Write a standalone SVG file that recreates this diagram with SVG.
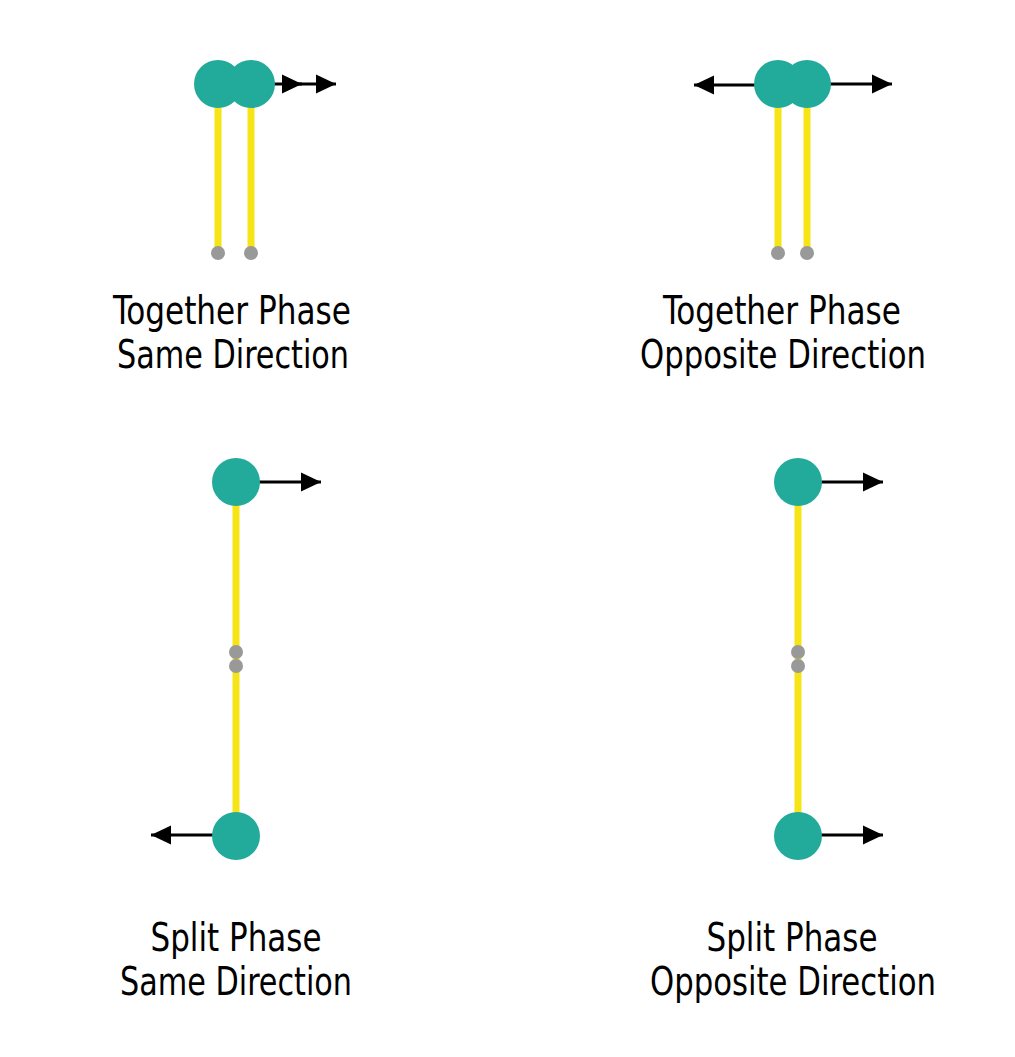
<svg xmlns="http://www.w3.org/2000/svg" width="1015" height="1057" viewBox="0 0 1015 1057">
<style>
.rod{stroke:#f7e417;stroke-width:7;fill:none}
.ball{fill:#22aa9a}
.pin{fill:#999999}
.arr{stroke:#000;stroke-width:3;fill:none;marker-end:url(#ah)}
.lbl{font-family:"DejaVu Sans Condensed","DejaVu Sans",sans-serif;font-stretch:condensed;font-size:39px;fill:#000;text-anchor:middle}
</style>
<defs>
<marker id="ah" markerWidth="20" markerHeight="20" refX="20" refY="10" orient="auto" markerUnits="userSpaceOnUse">
<path d="M0,0.5 L20,10 L0,19.5 Z" fill="#000"/>
</marker>
</defs>
<g id="connectors">
<line class="arr" x1="251" y1="84" x2="302" y2="84"/>
<line class="arr" x1="290" y1="84" x2="336" y2="84"/>
<line class="arr" x1="778" y1="85" x2="694" y2="85"/>
<line class="arr" x1="807" y1="84" x2="892" y2="84"/>
<line class="arr" x1="236" y1="482" x2="321" y2="482"/>
<line class="arr" x1="236" y1="835" x2="151" y2="835"/>
<line class="arr" x1="798" y1="482" x2="883" y2="482"/>
<line class="arr" x1="798" y1="835" x2="883" y2="835"/>
</g>
<g id="together-same">
<line class="rod" x1="218" y1="84" x2="218" y2="253"/>
<line class="rod" x1="251" y1="84" x2="251" y2="253"/>
<circle class="pin" cx="218" cy="253" r="7"/>
<circle class="pin" cx="251" cy="253" r="7"/>
<circle class="ball" cx="218" cy="84" r="24"/>
<circle class="ball" cx="251" cy="84" r="24"/>
<text class="lbl" x="232" y="324" textLength="238" lengthAdjust="spacingAndGlyphs">Together Phase</text>
<text class="lbl" x="233" y="368" textLength="232" lengthAdjust="spacingAndGlyphs">Same Direction</text>
</g>
<g id="together-opposite">
<line class="rod" x1="778" y1="84" x2="778" y2="253"/>
<line class="rod" x1="807" y1="84" x2="807" y2="253"/>
<circle class="pin" cx="778" cy="253" r="7"/>
<circle class="pin" cx="807" cy="253" r="7"/>
<circle class="ball" cx="778" cy="84" r="24"/>
<circle class="ball" cx="807" cy="84" r="24"/>
<text class="lbl" x="782" y="324" textLength="238" lengthAdjust="spacingAndGlyphs">Together Phase</text>
<text class="lbl" x="783" y="368" textLength="286" lengthAdjust="spacingAndGlyphs">Opposite Direction</text>
</g>
<g id="split-same">
<line class="rod" x1="236" y1="482" x2="236" y2="836"/>
<circle class="pin" cx="236" cy="652" r="7"/>
<circle class="pin" cx="236" cy="666" r="7"/>
<circle class="ball" cx="236" cy="482" r="24"/>
<circle class="ball" cx="236" cy="836" r="24"/>
<text class="lbl" x="236" y="951" textLength="171" lengthAdjust="spacingAndGlyphs">Split Phase</text>
<text class="lbl" x="236" y="995" textLength="232" lengthAdjust="spacingAndGlyphs">Same Direction</text>
</g>
<g id="split-opposite">
<line class="rod" x1="798" y1="482" x2="798" y2="836"/>
<circle class="pin" cx="798" cy="652" r="7"/>
<circle class="pin" cx="798" cy="666" r="7"/>
<circle class="ball" cx="798" cy="482" r="24"/>
<circle class="ball" cx="798" cy="836" r="24"/>
<text class="lbl" x="792" y="951" textLength="171" lengthAdjust="spacingAndGlyphs">Split Phase</text>
<text class="lbl" x="793" y="995" textLength="286" lengthAdjust="spacingAndGlyphs">Opposite Direction</text>
</g>
</svg>
